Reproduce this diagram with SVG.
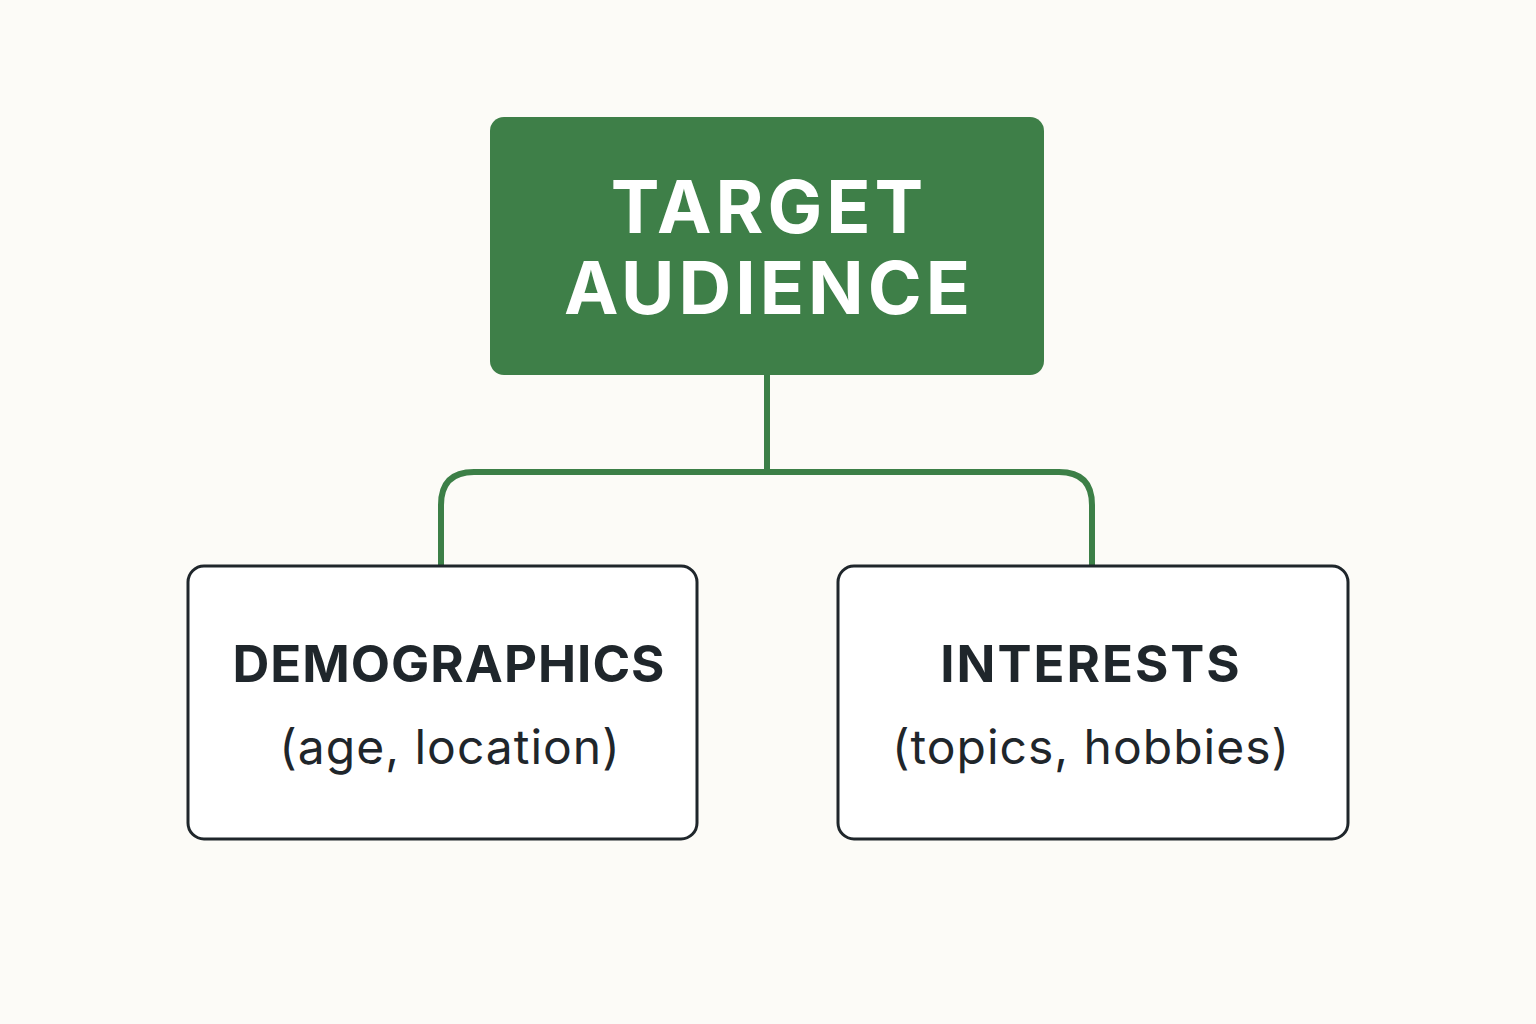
<svg xmlns="http://www.w3.org/2000/svg" width="1536" height="1024" viewBox="0 0 1536 1024">
<style>
.box{fill:#fff;stroke:#1f262b;stroke-width:3}
.h{font-family:Inter,"Liberation Sans",sans-serif;font-weight:700;fill:#1f262b;text-anchor:middle}
.s{font-family:Inter,"Liberation Sans",sans-serif;font-weight:400;fill:#1f262b;text-anchor:middle}
.conn{fill:none;stroke:#3c7f47;stroke-width:6}
</style>
<rect width="1536" height="1024" fill="#fcfbf7"/>
<g id="connectors">
<path class="conn" d="M767 375 V472 M441 566 V505 Q441 472 474 472 H1059 Q1092 472 1092 505 V566"/>
</g>
<g id="target">
<rect x="490" y="117" width="554" height="258" rx="14" fill="#3e7f48"/>
<text class="h" x="769" y="233" font-size="73" letter-spacing="4" style="fill:#fff">TARGET</text>
<text class="h" x="769" y="314" font-size="73" letter-spacing="4" style="fill:#fff">AUDIENCE</text>
</g>
<g id="demographics">
<rect class="box" x="188" y="566" width="509" height="273" rx="16"/>
<text class="h" x="449" y="682" font-size="51" letter-spacing="1">DEMOGRAPHICS</text>
<text class="s" x="450" y="764" font-size="48" letter-spacing="1">(age, location)</text>
</g>
<g id="interests">
<rect class="box" x="838" y="566" width="510" height="273" rx="16"/>
<text class="h" x="1091" y="682" font-size="51" letter-spacing="2">INTERESTS</text>
<text class="s" x="1091" y="764" font-size="48" letter-spacing="1">(topics, hobbies)</text>
</g>
</svg>
